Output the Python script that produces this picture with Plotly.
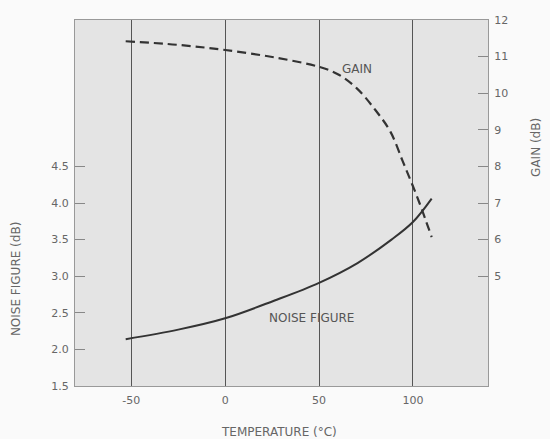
import plotly.graph_objects as go

# Data
nf_temp = [-53, -25, 0, 26, 50, 70.5, 88.6, 100, 110]
nf_db = [2.14, 2.27, 2.425, 2.665, 2.91, 3.18, 3.50, 3.74, 4.06]

gain_temp = [-53, -25, 0, 26, 50, 60, 70, 80, 88, 94.5, 99.3, 103.5, 107, 110]
gain_db = [11.42, 11.32, 11.18, 10.98, 10.72, 10.52, 10.14, 9.54, 8.95, 8.15, 7.55, 7.0, 6.5, 6.07]

x_ticks = [-50, 0, 50, 100]
x_ticktext = ["-50", "0", "50", "100"]
nf_ticks = [1.5, 2.0, 2.5, 3.0, 3.5, 4.0, 4.5]
gain_ticks = [5, 6, 7, 8, 9, 10, 11, 12]

FONT = "DejaVu Sans"
TXT = "#666666"
LBL = "#555555"

fig = go.Figure()
fig.add_trace(go.Scatter(x=nf_temp, y=nf_db, mode="lines",
                         line=dict(color="#333333", width=2, shape="spline", smoothing=1.0),
                         showlegend=False, yaxis="y"))
fig.add_trace(go.Scatter(x=gain_temp, y=gain_db, mode="lines",
                         line=dict(color="#333333", width=2.2, dash="9px,5px", shape="spline", smoothing=1.0),
                         showlegend=False, yaxis="y2"))

fig.add_annotation(x=70, y=10.66, xref="x", yref="y2", text="GAIN", showarrow=False,
                   font=dict(family=FONT, size=12, color=LBL))
fig.add_annotation(x=46, y=2.43, xref="x", yref="y", text="NOISE FIGURE", showarrow=False,
                   font=dict(family=FONT, size=12, color=LBL))

# axis titles
fig.add_annotation(x=0.495, y=-0.1257, xref="paper", yref="paper", text="TEMPERATURE (°C)",
                   showarrow=False, xanchor="center", yanchor="middle",
                   font=dict(family=FONT, size=12, color=TXT))
fig.add_annotation(x=-0.1429, y=0.292, xref="paper", yref="paper", text="NOISE FIGURE (dB)",
                   showarrow=False, xanchor="center", yanchor="middle", textangle=-90,
                   font=dict(family=FONT, size=12, color=TXT))
fig.add_annotation(x=1.116, y=0.653, xref="paper", yref="paper", text="GAIN (dB)",
                   showarrow=False, xanchor="center", yanchor="middle", textangle=-90,
                   font=dict(family=FONT, size=12, color=TXT))

fig.update_layout(
    width=550, height=439,
    margin=dict(l=75, r=62, t=20, b=53),
    paper_bgcolor="#fafafa",
    plot_bgcolor="#e4e4e4",
    font=dict(family=FONT, size=11, color=TXT),
    xaxis=dict(range=[-80, 140], tickvals=x_ticks, ticktext=x_ticktext, showgrid=True,
               gridcolor="#555555", gridwidth=1.3,
               zeroline=False, showline=True, linecolor="#999999", linewidth=1.2, mirror=True,
               ticks="", ticklabelstandoff=4, tickfont=dict(size=11, color=TXT)),
    yaxis=dict(range=[1.5, 6.5], tickvals=nf_ticks, ticktext=[f"{v:.1f}" for v in nf_ticks],
               showgrid=False, zeroline=False, showline=True, linecolor="#999999", linewidth=1.2,
               ticks="inside", ticklen=10, tickcolor="#888888", tickwidth=1.2,
               ticklabelstandoff=3, tickfont=dict(size=11, color=TXT)),
    yaxis2=dict(range=[2, 12], tickvals=gain_ticks, overlaying="y", side="right",
                showgrid=False, zeroline=False, showline=True, linecolor="#999999", linewidth=1.2,
                ticks="inside", ticklen=10, tickcolor="#888888", tickwidth=1.2,
                ticklabelstandoff=3, tickfont=dict(size=11, color=TXT)),
)

fig.write_html("out.html")
